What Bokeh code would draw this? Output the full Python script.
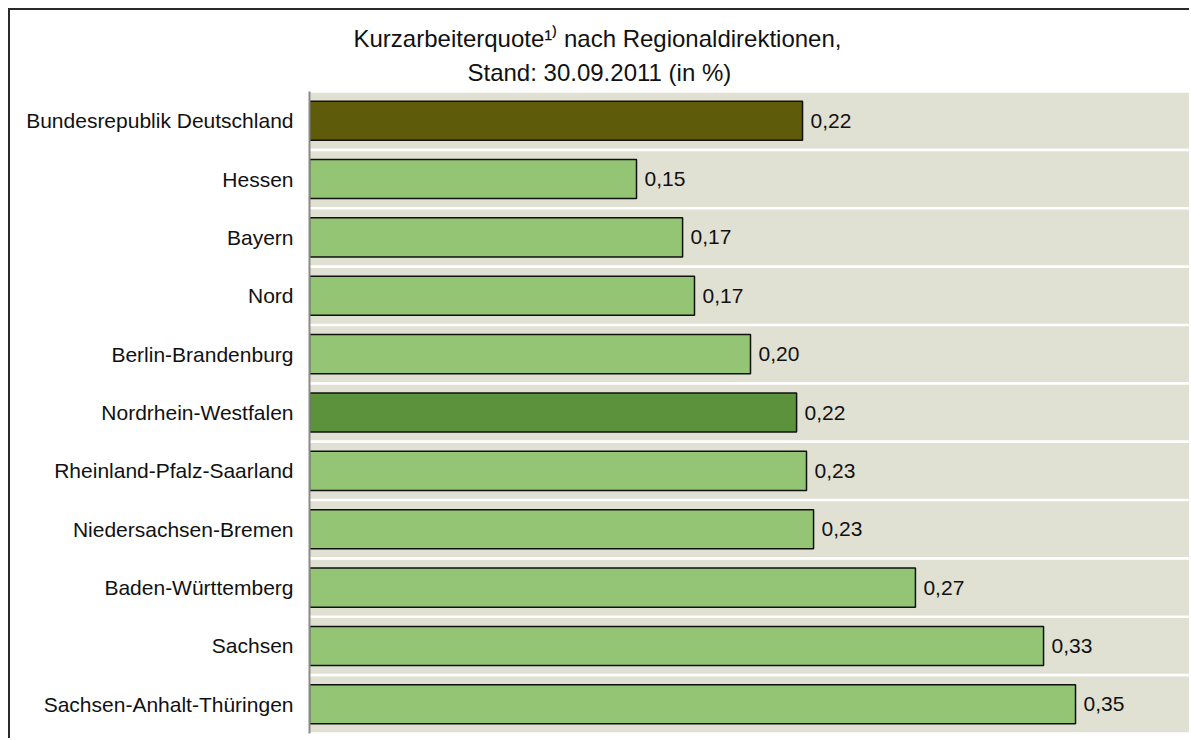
from bokeh.plotting import figure
from bokeh.models import ColumnDataSource, FactorRange, Range1d, Title
from bokeh.core.properties import value
from bokeh.embed import file_html
from bokeh.resources import INLINE

regions = [
    "Bundesrepublik Deutschland",
    "Hessen",
    "Bayern",
    "Nord",
    "Berlin-Brandenburg",
    "Nordrhein-Westfalen",
    "Rheinland-Pfalz-Saarland",
    "Niedersachsen-Bremen",
    "Baden-Württemberg",
    "Sachsen",
    "Sachsen-Anhalt-Thüringen",
]
quote = [0.2236, 0.1483, 0.1692, 0.1746, 0.2000, 0.2209, 0.2254, 0.2286, 0.2748, 0.3329, 0.3474]
quote_labels = ["0,22", "0,15", "0,17", "0,17", "0,20", "0,22", "0,23", "0,23", "0,27", "0,33", "0,35"]
bar_colors = ["#5E5B0A", "#93C575", "#93C575", "#93C575", "#93C575", "#5B923B",
              "#93C575", "#93C575", "#93C575", "#93C575", "#93C575"]
title_line1 = "Kurzarbeiterquote¹⁾ nach Regionaldirektionen,"
title_line2 = "Stand: 30.09.2011 (in %)"

FONT = "Liberation Sans"

src = ColumnDataSource(dict(region=regions, quote=quote, label=quote_labels, color=bar_colors,
                            band=[0.5] * len(regions)))

p = figure(
    width=1181, height=730,
    y_range=FactorRange(factors=list(reversed(regions)), range_padding=0),
    x_range=Range1d(0, 0.4),
    output_backend="svg", toolbar_location=None,
    min_border_left=299, min_border_right=0, min_border_top=81, min_border_bottom=7,
    styles={"margin-left": "8px", "margin-top": "8px",
            "border-left": "2px solid #2a2a2a", "border-top": "2px solid #2a2a2a"},
)
p.title = None
p.outline_line_color = None
p.background_fill_color = "white"
p.border_fill_color = "white"
p.xgrid.visible = False
p.ygrid.visible = False
p.xaxis.visible = False

p.add_layout(Title(text=title_line2, align="left", offset=158,
                   text_font=FONT, text_font_size="24px", text_font_style="normal",
                   text_color="#111111", standoff=11), "above")
p.add_layout(Title(text=title_line1, align="left", offset=44,
                   text_font=FONT, text_font_size="24px", text_font_style="normal",
                   text_color="#111111", standoff=0), "above")

p.hbar(y="region", left=0, right="band", height=0.955, source=src,
       fill_color="#E0E0D3", line_color=None)
p.hbar(y="region", left=0, right="quote", height=0.67, source=src,
       fill_color="color", line_color="#111111", line_width=1.5)
p.text(x="quote", y="region", text="label", source=src, x_offset=8,
       text_baseline="middle", text_align="left",
       text_font=value(FONT), text_font_size="21px", text_color="#111111")

ya = p.yaxis[0]
ya.major_tick_line_color = None
ya.minor_tick_line_color = None
ya.axis_line_color = "#8a8a8a"
ya.axis_line_width = 2
ya.major_label_standoff = 10
ya.major_label_text_font = FONT
ya.major_label_text_font_size = "21px"
ya.major_label_text_color = "#111111"

open("out.html", "w").write(file_html(p, INLINE))
